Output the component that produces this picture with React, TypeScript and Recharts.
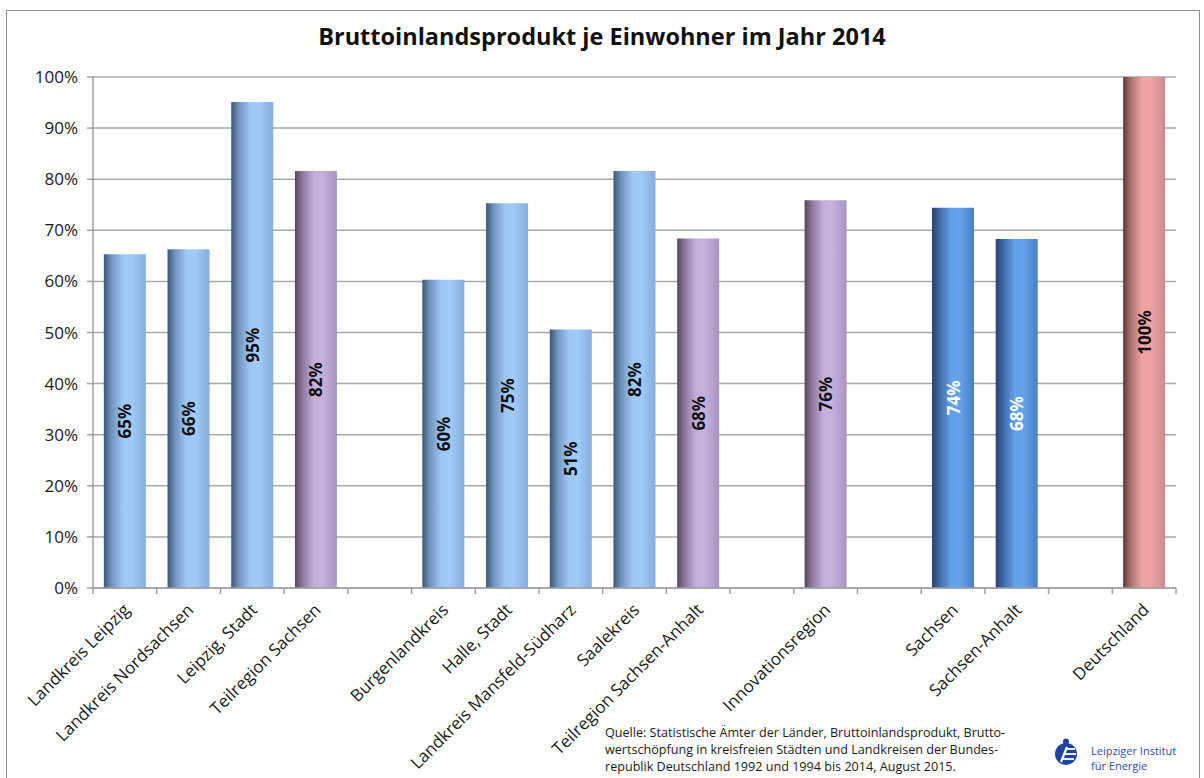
import React from 'react';
import { BarChart, Bar, XAxis, YAxis, CartesianGrid, Cell, LabelList } from 'recharts';

const categories = [
  'Landkreis Leipzig', 'Landkreis Nordsachsen', 'Leipzig, Stadt', 'Teilregion Sachsen', '',
  'Burgenlandkreis', 'Halle, Stadt', 'Landkreis Mansfeld-Südharz', 'Saalekreis', 'Teilregion Sachsen-Anhalt', '',
  'Innovationsregion', '', 'Sachsen', 'Sachsen-Anhalt', '', 'Deutschland',
];
const values: (number | null)[] = [
  65.3, 66.3, 95.1, 81.6, null,
  60.3, 75.3, 50.6, 81.6, 68.4, null,
  75.9, null, 74.4, 68.3, null, 100,
];
const groups = [
  'light', 'light', 'light', 'purple', '',
  'light', 'light', 'light', 'light', 'purple', '',
  'purple', '', 'dark', 'dark', '', 'pink',
];
const yTicks = [0, 10, 20, 30, 40, 50, 60, 70, 80, 90, 100];

const title = 'Bruttoinlandsprodukt je Einwohner im Jahr 2014';
const sourceLines = [
  'Quelle: Statistische Ämter der Länder, Bruttoinlandsprodukt, Brutto-',
  'wertschöpfung in kreisfreien Städten und Landkreisen der Bundes-',
  'republik Deutschland 1992 und 1994 bis 2014, August 2015.',
];
const logoLines = ['Leipziger Institut', 'für Energie'];

const gradients: Record<string, string[]> = {
  light: ['#3d5675', '#6f93bd', '#9fc7f5', '#a2cbf8', '#86addc'],
  purple: ['#554660', '#8c7a9e', '#c3afdb', '#c6b2de', '#a893c2'],
  dark: ['#26426a', '#3f6aa6', '#62a0ea', '#66a3ec', '#4a7fc6'],
  pink: ['#5c3838', '#a87272', '#eea2a2', '#f0a5a5', '#cf8a8a'],
};
const labelColor: Record<string, string> = { light: '#111', purple: '#111', dark: '#fff', pink: '#111' };

const data = categories.map((name, i) => ({
  name,
  value: values[i],
  group: groups[i],
  label: values[i] == null ? null : `${Math.round(values[i] as number)}%|${labelColor[groups[i]]}`,
}));

const W = 1204;
const H = 778;
const PLOT_LEFT = 93;
const PLOT_RIGHT = 1176;
const PLOT_TOP = 77;
const PLOT_BOTTOM = 588;
const STEP = (PLOT_RIGHT - PLOT_LEFT) / categories.length;
const FONT = '"Open Sans", sans-serif';

const XTick = (props: any) => {
  const { x, y, payload, index } = props;
  const label = payload.value as string;
  const isLast = index === categories.length - 1;
  const ax = x + 6;
  const ay = y + 15;
  return (
    <g>
      <line x1={x - STEP / 2} y1={y - 8} x2={x - STEP / 2} y2={y - 2} stroke="#a0a0a0" strokeWidth={1.5} />
      {isLast && <line x1={x + STEP / 2} y1={y - 8} x2={x + STEP / 2} y2={y - 2} stroke="#a0a0a0" strokeWidth={1.5} />}
      {label && (
        <text
          x={ax}
          y={ay}
          textAnchor="end"
          transform={`rotate(-45, ${ax}, ${ay})`}
          fontSize={17}
          fontFamily={FONT}
          fill="#1a1a1a"
        >
          {label}
        </text>
      )}
    </g>
  );
};

const BarLabel = (props: any) => {
  const { x, y, width, height, value } = props;
  if (value == null || value === '') return null;
  const [text, color] = String(value).split('|');
  const cx = x + width / 2;
  const cy = y + height / 2;
  return (
    <text
      x={cx}
      y={cy}
      textAnchor="middle"
      dominantBaseline="central"
      transform={`rotate(-90, ${cx}, ${cy})`}
      fontSize={17}
      fontWeight="bold"
      fontFamily={FONT}
      fill={color || '#111'}
    >
      {text}
    </text>
  );
};

export default function App() {
  return (
    <div style={{ position: 'absolute', left: 0, top: 0, width: W, height: H, background: '#fff', overflow: 'hidden' }}>
      <div
        style={{
          position: 'absolute', left: 6, top: 10, width: 1194, height: 800,
          border: '1.5px solid #8f8f8f', boxSizing: 'border-box',
        }}
      />
      <div
        style={{
          position: 'absolute', left: 0, top: 20, width: W, textAlign: 'center',
          fontFamily: FONT, fontWeight: 'bold', fontSize: 23.5, color: '#111',
        }}
      >
        {title}
      </div>
      <div style={{ position: 'absolute', left: 0, top: 0 }}>
        <BarChart
          width={W}
          height={H}
          data={data}
          margin={{ top: PLOT_TOP, right: W - PLOT_RIGHT, left: PLOT_LEFT - 60, bottom: 0 }}
          barCategoryGap="17%"
        >
          <defs>
            {Object.keys(gradients).map((k) => (
              <linearGradient key={k} id={`grad-${k}`} x1="0" y1="0" x2="1" y2="0">
                <stop offset="0%" stopColor={gradients[k][0]} />
                <stop offset="18%" stopColor={gradients[k][1]} />
                <stop offset="45%" stopColor={gradients[k][2]} />
                <stop offset="65%" stopColor={gradients[k][3]} />
                <stop offset="100%" stopColor={gradients[k][4]} />
              </linearGradient>
            ))}
          </defs>
          <CartesianGrid vertical={false} stroke="#a8a8a8" strokeWidth={1.5} />
          <XAxis
            dataKey="name"
            interval={0}
            height={H - PLOT_BOTTOM}
            tickLine={false}
            axisLine={{ stroke: '#a0a0a0', strokeWidth: 1.5 }}
            tick={<XTick />}
          />
          <YAxis
            width={60}
            domain={[0, 100]}
            ticks={yTicks}
            tickFormatter={(v: number) => `${v}%`}
            tickSize={6}
            tickMargin={9}
            axisLine={{ stroke: '#a0a0a0', strokeWidth: 1.5 }}
            tickLine={{ stroke: '#a0a0a0', strokeWidth: 1.5 }}
            tick={{ fontSize: 17, fontFamily: FONT, fill: '#1a1a1a' }}
            interval={0}
          />
          <Bar dataKey="value" isAnimationActive={false}>
            {data.map((d, i) => (
              <Cell key={i} fill={d.group ? `url(#grad-${d.group})` : 'none'} />
            ))}
            <LabelList dataKey="label" content={<BarLabel />} />
          </Bar>
        </BarChart>
      </div>
      <div
        style={{
          position: 'absolute', left: 605, top: 724, fontFamily: FONT, fontSize: 12.6,
          lineHeight: '17px', color: '#1a1a1a', whiteSpace: 'nowrap',
        }}
      >
        {sourceLines.map((l, i) => (
          <div key={i}>{l}</div>
        ))}
      </div>
      <svg style={{ position: 'absolute', left: 1053, top: 738 }} width={26} height={30}>
        <circle cx={13} cy={16} r={11} fill="#2043a0" />
        <circle cx={13} cy={3.5} r={3} fill="#2043a0" />
        <line x1={8} y1={24} x2={14} y2={9} stroke="#fff" strokeWidth={2.2} />
        <line x1={12} y1={11} x2={22} y2={11} stroke="#fff" strokeWidth={1.8} />
        <line x1={10.5} y1={16} x2={23} y2={16} stroke="#fff" strokeWidth={1.8} />
        <line x1={9} y1={21} x2={21} y2={21} stroke="#fff" strokeWidth={1.8} />
      </svg>
      <div
        style={{
          position: 'absolute', left: 1091, top: 743, fontFamily: FONT, fontSize: 11,
          lineHeight: '15px', color: '#2c4ea8', whiteSpace: 'nowrap',
        }}
      >
        {logoLines.map((l, i) => (
          <div key={i}>{l}</div>
        ))}
      </div>
    </div>
  );
}
